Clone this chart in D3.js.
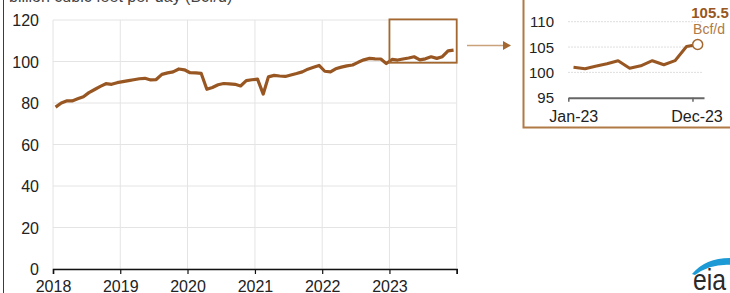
<!DOCTYPE html>
<html>
<head>
<meta charset="utf-8">
<script src="https://cdn.jsdelivr.net/npm/d3@7"></script>
<style>
  body { margin: 0; background: #fff; }
  svg { display: block; font-family: "Liberation Sans", Arial, sans-serif; }
</style>
</head>
<body>
<svg id="chart" width="730" height="293"></svg>
<script>
// monthly dry natural gas production, billion cubic feet per day
const years = [2018, 2019, 2020, 2021, 2022, 2023];
const yTicks = [0, 20, 40, 60, 80, 100, 120];
const insetTicks = [95, 100, 105, 110];
const insetLabels = ["Jan-23", "Dec-23"];
const production = [
  78.0, 80.0, 81.0, 81.0, 82.0, 83.0, 85.0, 86.5, 88.0, 89.3, 89.0, 89.8,
  90.3, 90.8, 91.2, 91.7, 91.9, 91.1, 91.3, 93.8, 94.5, 95.0, 96.4, 96.0,
  94.6, 94.5, 94.3, 86.6, 87.5, 88.8, 89.4, 89.2, 89.0, 88.2, 90.8, 91.2,
  91.5, 84.3, 92.6, 93.3, 93.0, 92.8, 93.5, 94.2, 95.0, 96.3, 97.2, 98.1,
  95.3, 95.0, 96.5, 97.3, 97.9, 98.3, 99.6, 100.8, 101.5, 101.3, 101.2, 99.0,
  101.0, 100.7, 101.2, 101.7, 102.3, 100.8, 101.3, 102.3, 101.5, 102.3, 105.1, 105.5
];
const latestLabel = ["105.5", "Bcf/d"];

const brown = "#985722";
const months = d3.timeMonth.range(new Date(2018, 0, 1), new Date(2024, 0, 1));
const data = months.map((m, i) => ({ date: new Date(m.getFullYear(), m.getMonth(), 15), value: production[i] }));

const svg = d3.select("#chart");

// left frame edge
svg.append("line").attr("x1", 3.5).attr("x2", 3.5).attr("y1", 0).attr("y2", 293)
  .attr("stroke", "#2d3f55").attr("stroke-width", 1);

// unit title (cut at top)
svg.append("text").attr("x", 9).attr("y", 1.5)
  .attr("font-size", 16).attr("fill", "#444")
  .text("billion cubic feet per day (Bcf/d)");

// main chart
const x = d3.scaleTime().domain([new Date(2018, 0, 1), new Date(2024, 0, 1)]).range([53, 456.7]);
const y = d3.scaleLinear().domain([0, 120]).range([269, 20]);

const grid = svg.append("g");
grid.selectAll(".hg").data(yTicks).enter().append("line")
  .attr("x1", x.range()[0]).attr("x2", x.range()[1])
  .attr("y1", d => y(d)).attr("y2", d => y(d))
  .attr("stroke", "#e4e4e4").attr("stroke-width", 1);
const yearDates = years.concat([2024]).map(yr => new Date(yr, 0, 1));
grid.selectAll(".vg").data(yearDates).enter().append("line")
  .attr("x1", d => x(d)).attr("x2", d => x(d))
  .attr("y1", y(120)).attr("y2", y(0))
  .attr("stroke", "#e4e4e4").attr("stroke-width", 1);

svg.append("g").selectAll("text").data(yTicks).enter().append("text")
  .attr("x", 39).attr("y", d => y(d) + 6)
  .attr("text-anchor", "end").attr("font-size", 16).attr("fill", "#222")
  .text(d => d);

const xAxis = svg.append("g").attr("transform", `translate(0,${y(0)})`)
  .call(d3.axisBottom(x).tickValues(yearDates).tickSize(5).tickFormat(d => d.getFullYear() < 2024 ? d.getFullYear() : ""));
xAxis.select(".domain").attr("stroke", "#111").attr("stroke-width", 1.5);
xAxis.selectAll(".tick line").attr("stroke", "#111").attr("stroke-width", 1.2);
xAxis.selectAll(".tick text").attr("font-size", 16).attr("fill", "#222")
  .attr("font-family", "Liberation Sans, Arial, sans-serif").attr("y", 12).attr("dy", "0.71em");

const line = d3.line().x(d => x(d.date)).y(d => y(d.value));
svg.append("path").datum(data).attr("d", line)
  .attr("fill", "none").attr("stroke", brown).attr("stroke-width", 3.2)
  .attr("stroke-linejoin", "round");

// highlight box around 2023
svg.append("rect")
  .attr("x", x(new Date(2023, 0, 1))).attr("y", y(120.3))
  .attr("width", x(new Date(2024, 0, 1)) - x(new Date(2023, 0, 1)))
  .attr("height", y(99.4) - y(120.3))
  .attr("fill", "none").attr("stroke", "#a3672f").attr("stroke-width", 1.8);

// arrow to inset
svg.append("line").attr("x1", 467).attr("x2", 504).attr("y1", 45.5).attr("y2", 45.5)
  .attr("stroke", "#c9a27c").attr("stroke-width", 1.5);
svg.append("path").attr("d", "M503,41 L511,45.5 L503,50 Z").attr("fill", "#a3672f");

// inset panel
svg.append("rect").attr("x", 523.5).attr("y", -10).attr("width", 240).attr("height", 137.5)
  .attr("fill", "#fff").attr("stroke", "#b07a46").attr("stroke-width", 2);

const data23 = data.filter(d => d.date.getFullYear() === 2023);
const ix = d3.scaleTime().domain([new Date(2023, 0, 1), new Date(2024, 0, 1)]).range([568.3, 704]);
const iy = d3.scaleLinear().domain([95, 110]).range([97.7, 21.7]);

svg.append("g").selectAll("line").data(insetTicks.filter(t => t > 95)).enter().append("line")
  .attr("x1", 568).attr("x2", 703)
  .attr("y1", d => iy(d)).attr("y2", d => iy(d))
  .attr("stroke", "#dedede").attr("stroke-width", 1).attr("stroke-dasharray", "2,1");

svg.append("g").selectAll("text").data(insetTicks).enter().append("text")
  .attr("x", 554).attr("y", d => iy(d) + 5.5)
  .attr("text-anchor", "end").attr("font-size", 15).attr("fill", "#222")
  .text(d => d);

const insetDates = [new Date(2023, 0, 1), new Date(2023, 11, 1)];
const iAxis = svg.append("g").attr("transform", `translate(0,${iy(95)})`)
  .call(d3.axisBottom(ix).tickValues(insetDates).tickSize(4).tickSizeOuter(0)
    .tickFormat((d, i) => insetLabels[i]));
iAxis.select(".domain").attr("stroke", "#666").attr("stroke-width", 2);
iAxis.selectAll(".tick line").attr("stroke", "#666").attr("stroke-width", 1.5);
iAxis.selectAll(".tick text").attr("font-size", 16).attr("fill", "#222")
  .attr("font-family", "Liberation Sans, Arial, sans-serif").attr("y", 13).attr("dy", "0.71em");
iAxis.selectAll(".tick text").attr("dx", (d, i) => i === 0 ? 5 : 4);

const iline = d3.line().x(d => ix(d.date)).y(d => iy(d.value));
svg.append("path").datum(data23).attr("d", iline)
  .attr("fill", "none").attr("stroke", brown).attr("stroke-width", 3)
  .attr("stroke-linejoin", "round");

const last = data23[data23.length - 1];
svg.append("circle").attr("cx", ix(last.date)).attr("cy", iy(last.value)).attr("r", 5)
  .attr("fill", "#fff").attr("stroke", "#a3672f").attr("stroke-width", 1.5);

svg.append("text").attr("x", 710).attr("y", 17.5).attr("text-anchor", "middle")
  .attr("font-size", 15).attr("font-weight", "bold").attr("fill", brown).text(latestLabel[0]);
svg.append("text").attr("x", 709).attr("y", 33.5).attr("text-anchor", "middle")
  .attr("font-size", 14).attr("fill", "#b07a46").text(latestLabel[1]);

// eia logo
svg.append("path").attr("d", "M692,274 Q706,257 733,258 L733,265 Q711,263 695,275 Z").attr("fill", "#1b9ad6");
svg.append("text").attr("x", 693).attr("y", 290).attr("font-size", 30)
  .attr("textLength", 33).attr("lengthAdjust", "spacingAndGlyphs")
  .attr("fill", "#2a2a2a").text("eia");
</script>
</body>
</html>
